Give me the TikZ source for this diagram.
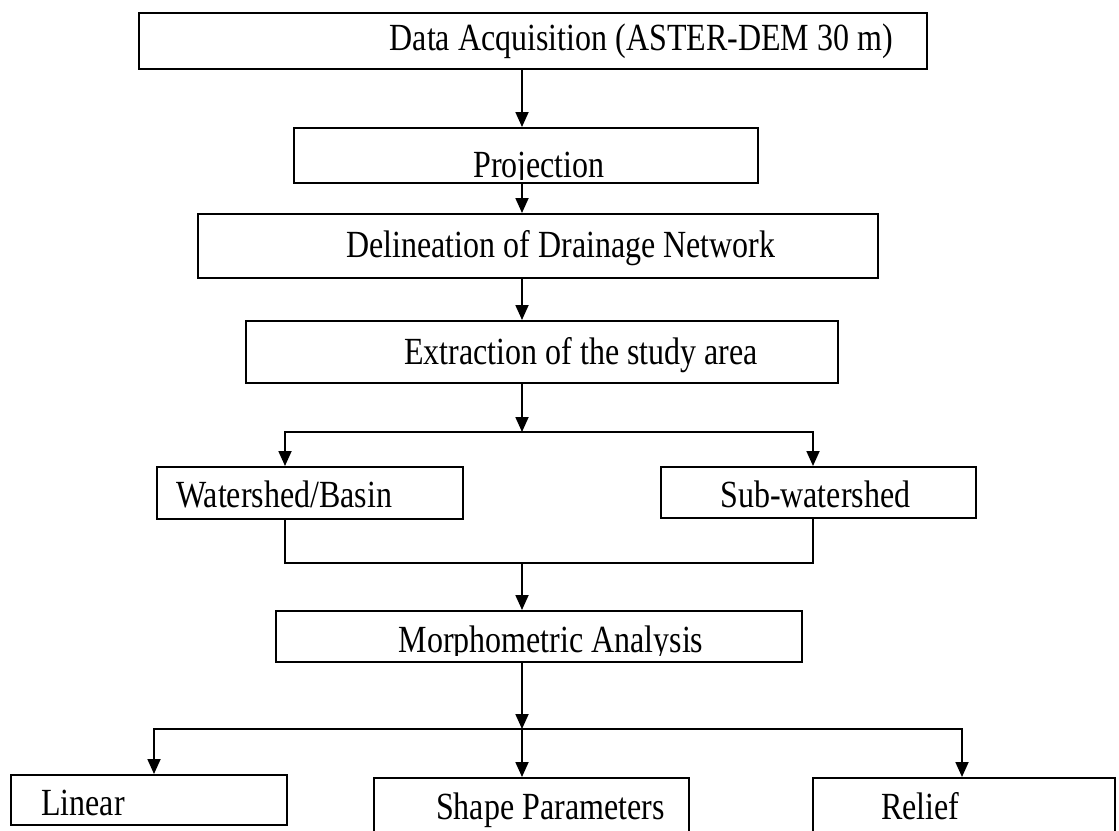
\documentclass[tikz,border=0pt]{standalone}
\usepackage{fontspec}
\setmainfont{Liberation Serif}
\usetikzlibrary{arrows.meta}
% labels are set slightly taller than wide
\newcommand\tallText[1]{\scalebox{1}[1.2]{#1}}
\begin{document}
\begin{tikzpicture}[x=1pt,y=-1pt,
  box/.style={draw, line width=1.8pt, rectangle, inner sep=0pt, anchor=north west},
  lbl/.style={font=\fontsize{32}{36}\selectfont, inner sep=0pt},
  flow/.style={line width=1.8pt, -{Triangle[length=15pt,width=13pt]}},
  link/.style={line width=1.8pt}]
\useasboundingbox (0,0) rectangle (1119,830);
\fill[white] (0,0) rectangle (1119,830);

% boxes
\node[box, minimum width=788pt, minimum height=56pt] (data)   at (138,12)  {};
\node[box, minimum width=464pt, minimum height=55pt] (proj)   at (293,127) {};
\node[box, minimum width=680pt, minimum height=64pt] (delin)  at (197,213) {};
\node[box, minimum width=592pt, minimum height=62pt] (extr)   at (245,320) {};
\node[box, minimum width=306pt, minimum height=52pt] (ws)     at (156,466) {};
\node[box, minimum width=315pt, minimum height=51pt] (sub)    at (660,466) {};
\node[box, minimum width=526pt, minimum height=51pt] (morph)  at (275,610) {};
\node[box, minimum width=276pt, minimum height=50pt] (linear) at (10,774)  {};
\node[box, minimum width=315pt, minimum height=80pt] (shape)  at (373,777) {};
\node[box, minimum width=302pt, minimum height=80pt] (relief) at (812,777) {};

% labels
\node[lbl, anchor=base east] (tdata) at (893,50) {\tallText{Data Acquisition (ASTER-DEM 30 m)}};
\begin{scope}
  \clip (proj.north west) rectangle ([yshift=4pt]proj.south east);
  \node[lbl, anchor=base] (tproj) at (539,177) {\tallText{Projection}};
\end{scope}
\node[lbl, anchor=base] (tdelin) at (561,257) {\tallText{Delineation of Drainage Network}};
\node[lbl, anchor=base] (textr) at (581,364) {\tallText{Extraction of the study area}};
\node[lbl, anchor=base west] (tws) at (176,507) {\tallText{Watershed/Basin}};
\node[lbl, anchor=base west] (tsub) at (720,507) {\tallText{Sub-watershed}};
\begin{scope}
  \clip (morph.north west) rectangle ([yshift=7pt]morph.south east);
  \node[lbl, anchor=base] (tmorph) at (551,652) {\tallText{Morphometric Analysis}};
\end{scope}
\node[lbl, anchor=base west] (tlinear) at (41,815) {\tallText{Linear}};
\node[lbl, anchor=base west] (tshape) at (436,819) {\tallText{Shape Parameters}};
\node[lbl, anchor=base west] (trelief) at (881,819) {\tallText{Relief}};

% connector guides
\coordinate (spine) at (522,0);
\coordinate (wsx) at (285,0);
\coordinate (subx) at (813,0);
\coordinate (linx) at (154,0);
\coordinate (relx) at (962,0);
\coordinate (s1) at (522,432);
\coordinate (m1) at (522,563);
\coordinate (s2) at (522,729);

% connectors
\draw[flow] (data.south -| spine) -- (proj.north -| spine);
\draw[flow] (proj.south -| spine) -- (delin.north -| spine);
\draw[flow] (delin.south -| spine) -- (extr.north -| spine);
\draw[flow] (extr.south -| spine) -- (s1);
\draw[flow] (s1) -| (wsx |- ws.north);
\draw[flow] (s1) -| (subx |- sub.north);
\draw[link] (wsx |- ws.south) |- (m1) -| (subx |- sub.south);
\draw[flow] (m1) -- (morph.north -| spine);
\draw[flow] (morph.south -| spine) -- (s2);
\draw[flow] (s2) -| (linx |- linear.north);
\draw[flow] (s2) -| (relx |- relief.north);
\draw[flow] (s2) -- (shape.north -| spine);
\end{tikzpicture}
\end{document}
